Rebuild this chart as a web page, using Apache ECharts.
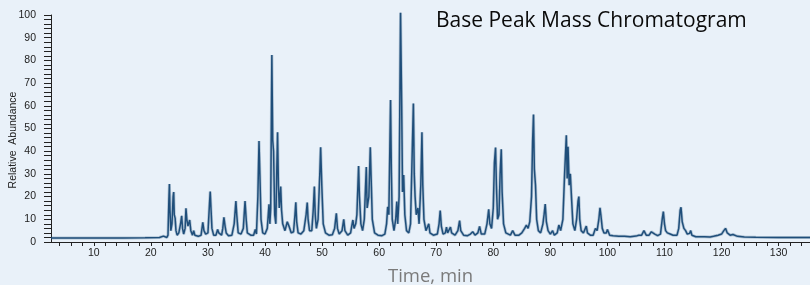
<!DOCTYPE html>
<html>
<head>
<meta charset="utf-8">
<script src="https://cdn.jsdelivr.net/npm/echarts@6/dist/echarts.min.js"></script>
<style>
  html, body { margin: 0; padding: 0; background: #e9f1f9; }
  #chart { width: 810px; height: 285px; }
</style>
</head>
<body>
<div id="chart"></div>
<script>
// retention time (min) and relative abundance (%)
var times = [
  2.5, 15, 19, 21.5, 22.2, 22.5, 22.8,
  23.0, 23.15, 23.25, 23.35, 23.5, 23.7, 23.9, 24.0, 24.1, 24.25, 24.4, 24.6,
  24.9, 25.2, 25.4, 25.55, 25.75, 26.0, 26.15, 26.3, 26.5, 26.8, 27.0, 27.3, 27.5, 27.7,
  28.3, 28.8, 29.1, 29.3, 29.6, 30.0, 30.3, 30.4, 30.55, 30.7, 31.0, 31.4, 31.7, 31.9,
  32.1, 32.4, 32.6, 32.8, 33.0, 33.2, 33.6, 34.2, 34.6, 34.9, 35.05, 35.3, 35.8, 36.2,
  36.5, 36.7, 36.9, 37.5, 38.0, 38.3, 38.5, 38.75, 38.95, 39.1, 39.3, 39.6, 40.0, 40.4,
  40.7, 40.85, 41.0, 41.2, 41.35, 41.5, 41.7, 41.9, 42.05, 42.2, 42.35, 42.5, 42.75, 42.9,
  43.1, 43.5, 43.9, 44.2, 44.6, 45.0, 45.25, 45.4, 45.55, 45.8, 46.3, 46.8, 47.2, 47.4,
  47.55, 47.8, 48.2, 48.45, 48.65, 48.8, 49.0, 49.3, 49.6, 49.75, 49.95, 50.2, 50.6, 51.2,
  51.8, 52.2, 52.5, 52.7, 53.0, 53.5, 53.8, 54.0, 54.5, 55.0, 55.2, 55.4, 55.6, 55.9,
  56.1, 56.4, 56.55, 56.8, 57.1, 57.4, 57.75, 57.9, 58.2, 58.45, 58.6, 58.8, 59.2, 59.8,
  60.5, 61.0, 61.3, 61.5, 61.7, 62.0, 62.15, 62.3, 62.6, 62.9, 63.1, 63.25, 63.5, 63.75,
  63.95, 64.1, 64.3, 64.5, 64.8, 65.2, 65.5, 65.8, 66.0, 66.15, 66.3, 66.5, 66.8, 67.0,
  67.3, 67.5, 67.65, 67.85, 68.2, 68.7, 68.9, 69.5, 70.2, 70.5, 70.7, 70.9, 71.2, 71.6,
  71.8, 72.0, 72.3, 72.5, 72.7, 73.3, 73.8, 74.1, 74.3, 74.8, 75.5, 76.0, 76.4, 76.8,
  77.3, 77.6, 77.9, 78.5, 78.9, 79.2, 79.4, 79.7, 80.0, 80.2, 80.4, 80.55, 80.75, 81.0,
  81.2, 81.4, 81.55, 81.8, 82.2, 83.0, 83.4, 83.8, 84.5, 85.0, 85.5, 85.8, 86.1, 86.4,
  86.7, 86.9, 87.05, 87.2, 87.4, 87.6, 87.9, 88.3, 88.7, 88.9, 89.1, 89.3, 89.6, 90.0,
  90.4, 90.7, 91.2, 91.5, 91.8, 92.2, 92.5, 92.8, 92.95, 93.1, 93.3, 93.5, 93.7, 93.95,
  94.3, 94.6, 94.85, 95.0, 95.15, 95.4, 95.8, 96.3, 96.5, 97.0, 97.5, 97.9, 98.2, 98.5,
  98.7, 98.85, 99.1, 99.4, 99.8, 100.0, 100.4, 101, 102, 103, 104, 105, 105.5, 106.0,
  106.4, 106.6, 106.8, 107.3, 107.7, 108.0, 108.3, 108.8, 109.3, 109.6, 109.8, 110.0, 110.2, 110.5,
  111.0, 111.5, 112.2, 112.5, 112.75, 112.9, 113.1, 113.4, 113.7, 114.0, 114.4, 114.6, 114.8, 115.5,
  117, 118, 118.6, 119.4, 120, 120.4, 120.7, 121.0, 121.5, 122.0, 122.3, 122.8, 124, 126,
  130, 135.5
];
var abundance = [
  1.8, 1.8, 1.9, 2.0, 2.6, 2.4, 2.0,
  3, 18, 25.5, 14, 5, 8, 20, 22, 12, 10.5, 5, 3,
  4, 8, 11.5, 6, 3.5, 6, 14.8, 10, 7, 9.7, 5, 3, 5, 3,
  2.5, 3, 8.7, 5, 3.5, 4, 18, 22.2, 14, 6, 3, 3, 5.5, 4,
  4.5, 3, 6, 10.9, 7, 4, 2.8, 3, 8, 18, 12, 4, 3.5, 6,
  18, 10, 4, 3, 3, 5.5, 3.5, 20, 44.5, 30, 10, 4, 3.5, 6,
  16.6, 8, 15, 82.4, 45, 40, 12, 8, 30, 48.3, 25, 15, 24.4, 14,
  8, 5, 8.9, 7, 4, 4.5, 12, 17.5, 9, 4, 3.5, 5, 12, 17.4,
  10, 5, 5, 14, 24.4, 12, 6, 10, 30, 41.7, 25, 8, 4, 3,
  3.2, 6, 12.6, 6, 3.5, 5, 10, 5, 3, 4, 7, 9.7, 6, 8,
  12, 33.5, 20, 8, 5, 10, 33, 15, 20, 41.7, 28, 10, 4, 3,
  2.8, 3.5, 8, 15.5, 12, 62.6, 30, 10, 5, 10, 17.8, 8, 20, 101,
  60, 22, 29.5, 12, 5, 4, 8, 40, 61, 30, 20, 12, 15, 8,
  25, 48.3, 25, 10, 5, 8, 4, 3, 3.5, 8, 13.8, 7, 3.5, 4,
  6.6, 4, 4, 6.6, 4, 3, 5, 9.4, 5, 3, 2.8, 3.5, 4.5, 3,
  4, 6.9, 3.5, 3.5, 8, 14.4, 8, 6, 15, 35, 41.6, 25, 10, 12,
  30, 40.8, 22, 8, 4, 3, 5, 3, 3, 4, 6, 7.4, 6, 9,
  20, 45, 56.2, 32, 25, 10, 5, 4, 8, 12, 16.7, 9, 5, 3.5,
  5, 3, 4, 7.5, 5, 10, 30, 47, 28, 42, 25, 30, 20, 8,
  5, 10, 18, 20, 10, 5, 4, 7, 4, 3, 3, 6, 5, 10,
  15.1, 12, 6, 4, 4, 5.5, 3, 2.8, 2.5, 2.5, 2.3, 2.6, 3, 3,
  5, 5.3, 3, 3, 4.5, 5.3, 3.5, 2.8, 3.5, 10, 13.4, 8, 5, 4,
  3.5, 3, 3, 6, 14, 15.3, 9, 6, 5, 3.5, 3.8, 5, 3, 2.3,
  2.3, 2.2, 2.5, 3, 3.5, 5, 6, 4, 3, 3.3, 3.2, 2.5, 2.2, 2.1,
  2.0, 2.0
];
var xLabels = [10, 20, 30, 40, 50, 60, 70, 80, 90, 100, 110, 120, 130];
var xTicks = [4, 6, 8, 10, 12, 14, 16, 18, 20, 22, 24, 26, 28, 30, 32, 34, 36, 38, 40,
  42, 44, 46, 48, 50, 52, 54, 56, 58, 60, 62, 64, 66, 68, 70, 72, 74, 76, 78, 80, 82,
  84, 86, 88, 90, 92, 94, 96, 98, 100, 102, 104, 106, 108, 110, 112, 114, 116, 118,
  120, 122, 124, 126, 128, 130, 132, 134];

var chart = echarts.init(document.getElementById('chart'));

var points = times.map(function (t, i) { return [t, abundance[i]]; });

var option = {
    backgroundColor: '#e9f1f9',
    animation: false,
    title: {
        text: 'Base Peak Mass Chromatogram',
        left: 436,
        top: 11,
        padding: 0,
        textStyle: {
            fontFamily: 'Open Sans',
            fontSize: 21,
            fontWeight: 'normal',
            color: '#0a0a0a'
        }
    },
    grid: { left: 51, right: 0, top: 15, bottom: 43, containLabel: false, outerBoundsMode: 'none' },
    xAxis: {
        type: 'value',
        min: 2.5,
        max: 135.5,
        name: 'Time, min',
        nameLocation: 'middle',
        nameGap: 25,
        nameTextStyle: { fontFamily: 'Open Sans', fontSize: 18.5, color: '#7a7a7a' },
        axisLine: { lineStyle: { color: '#222', width: 1 } },
        axisTick: { customValues: xTicks, length: 4, lineStyle: { color: '#222' } },
        axisLabel: {
            customValues: xLabels,
            margin: 6,
            fontFamily: 'Liberation Sans',
            fontSize: 10.5,
            color: '#222'
        },
        splitLine: { show: false }
    },
    yAxis: {
        type: 'value',
        min: 0,
        max: 100,
        interval: 10,
        axisLine: { show: true, lineStyle: { color: '#222', width: 1 } },
        axisTick: { show: true, length: 7, lineStyle: { color: '#222' } },
        minorTick: { show: true, splitNumber: 5, length: 7, lineStyle: { color: '#222' } },
        axisLabel: {
            margin: 15,
            fontFamily: 'Liberation Sans',
            fontSize: 10.5,
            color: '#222',
            showMinLabel: true,
            showMaxLabel: true
        },
        splitLine: { show: false }
    },
    graphic: [{
        type: 'text',
        x: 13,
        y: 140,
        rotation: Math.PI / 2,
        style: {
            text: 'Relative  Abundance',
            fontFamily: 'Liberation Sans',
            fontSize: 10.5,
            fill: '#222',
            align: 'center',
            verticalAlign: 'middle'
        }
    }],
    series: [{
        // soft halo round the trace, as in the instrument print-out
        type: 'line',
        data: points,
        symbol: 'none',
        clip: false,
        silent: true,
        lineStyle: { color: 'rgba(31, 78, 122, 0.28)', width: 3 }
    }, {
        type: 'line',
        data: points,
        symbol: 'none',
        clip: false,
        lineStyle: { color: '#1f4e7a', width: 1.5 }
    }]
};

chart.setOption(option);
</script>
</body>
</html>
